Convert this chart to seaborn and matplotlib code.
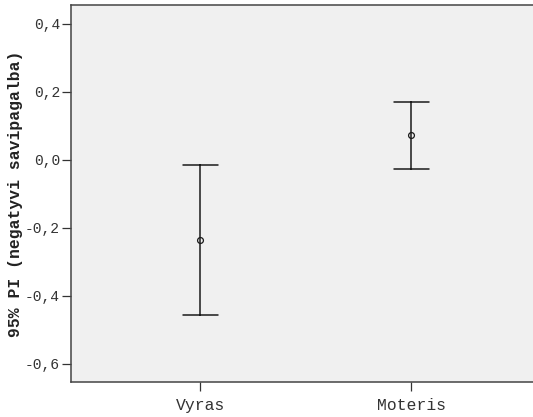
import matplotlib
matplotlib.use("Agg")
import matplotlib.pyplot as plt
import seaborn as sns
import pandas as pd
from matplotlib.ticker import FuncFormatter

categories = ["Vyras", "Moteris"]
means = [-0.236, 0.072]
lower = [-0.457, -0.027]
upper = [-0.015, 0.171]
y_ticks = [-0.6, -0.4, -0.2, 0.0, 0.2, 0.4]
y_label = "95% PI (negatyvi savipagalba)"

rows = []
for c, m, lo, hi in zip(categories, means, lower, upper):
    for v in (lo, m, hi):
        rows.append({"cat": c, "val": v})
df = pd.DataFrame(rows)

sns.set_theme(style="white")
plt.rcParams["font.family"] = ["Liberation Mono", "DejaVu Sans Mono"]

fig = plt.figure(figsize=(5.33, 4.17), dpi=100)
ax = fig.add_axes([71/533, 1-382/417, 1-71/533, (382-5)/417])
ax.set_facecolor("#F0F0F0")

sns.pointplot(data=df, x="cat", y="val", order=categories,
              estimator="median", errorbar=("pi", 100),
              capsize=0.166, linestyle="none", marker="o",
              color="#1a1a1a", err_kws={"linewidth": 1.1},
              markersize=4.2, markerfacecolor="none",
              markeredgewidth=0.9, ax=ax)

ax.set_xlim(-0.613, 1.577)
ax.set_ylim(-0.654, 0.455)
ax.set_yticks(y_ticks)
ax.yaxis.set_major_formatter(FuncFormatter(
    lambda v, p: ("%.1f" % v).replace(".", ",").replace("-0,0", "0,0")))
ax.set_xlabel("")
ax.set_ylabel(y_label, fontsize=11.8, fontweight="bold", color="#222222", labelpad=1)

ax.tick_params(axis="both", which="major", direction="out", length=6.5,
               width=0.9, color="#333333", labelcolor="#333333", pad=1.5,
               left=True, bottom=True)
ax.tick_params(axis="y", labelsize=10.5)
ax.tick_params(axis="x", labelsize=11.8, pad=5)

for s in ["left", "bottom", "top"]:
    ax.spines[s].set_visible(True)
    ax.spines[s].set_color("#444444")
    ax.spines[s].set_linewidth(1.1)
ax.spines["right"].set_visible(False)

fig.savefig("out.png", dpi=100)
